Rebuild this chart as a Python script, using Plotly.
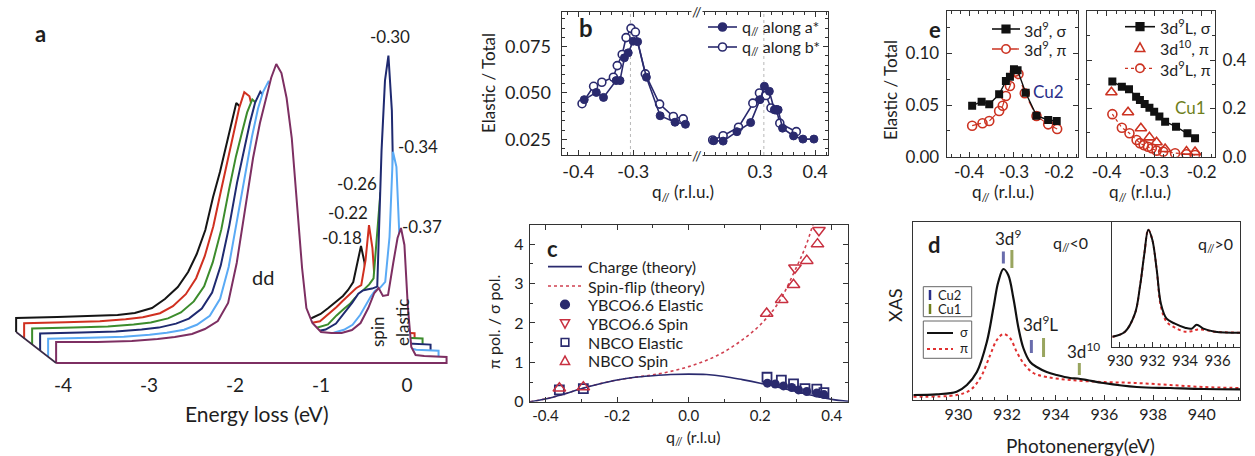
import plotly.graph_objects as go

W, H = 1255, 456
FONT = "Lato"
INK = "#1e1e1e"
AXC = "#333333"
NAVY = "#2a2a6e"
RED = "#cc3322"
OLIVE = "#6f7f1c"

def fx(x):
    return x / W

def fy(y):
    return 1 - y / H

# ======================= DATA =======================
# ---- panel a : RIXS spectra (energy loss, eV ; intensity a.u.) ----
a_energy = [-4.08, -3.6, -3.2, -2.9, -2.7, -2.5, -2.35, -2.2, -2.08, -1.98,
            -1.88, -1.79, -1.71, -1.64, -1.58, -1.52, -1.46, -1.40, -1.34, -1.28,
            -1.22, -1.17, -1.10, -1.00, -0.88, -0.76, -0.64, -0.54, -0.45, -0.38,
            -0.33, -0.28, -0.22, -0.16, -0.11, -0.07, -0.03, 0.01, 0.05, 0.10,
            0.20, 0.46]
a_q_labels = ["-0.18", "-0.22", "-0.26", "-0.30", "-0.34", "-0.37"]
a_int_q018 = [14, 15, 16, 17, 19, 24, 33, 45, 60, 78,
              102, 135, 160, 185, 205, 229, 224, 205, 175, 130,
              80, 45, 25, 14, 12, 12, 14, 18, 24, 29,
              32, 36, 42, 50, 70, 86, 70, 35, 12, 6,
              5, 5]
a_int_q022 = [15, 16, 17, 19, 21, 25, 32, 44, 60, 82,
              112, 148, 180, 208, 230, 246, 242, 220, 185, 140,
              88, 50, 28, 18, 15, 15, 17, 24, 31, 37,
              41, 45, 50, 53, 78, 113, 90, 40, 12, 7,
              6, 5]
a_int_q026 = [16, 17, 18, 20, 22, 26, 32, 43, 58, 82,
              115, 155, 188, 212, 232, 245, 240, 218, 185, 140,
              88, 50, 30, 20, 17, 17, 20, 29, 36, 41,
              46, 50, 55, 60, 66, 110, 152, 70, 15, 8,
              7, 6]
a_int_q030 = [17, 18, 19, 21, 23, 27, 32, 42, 58, 85,
              125, 168, 200, 228, 248, 259, 252, 230, 195, 145,
              90, 52, 32, 22, 19, 21, 27, 38, 48, 57,
              60, 61, 62, 64, 200, 270, 295, 240, 60, 10,
              7, 6]
a_int_q034 = [18, 19, 20, 22, 24, 27, 32, 41, 58, 90,
              138, 185, 220, 248, 265, 275, 268, 245, 208, 150,
              92, 52, 33, 25, 22, 24, 27, 32, 42, 53,
              60, 66, 69, 75, 120, 205, 190, 110, 25, 9,
              7, 6]
a_int_q037 = [21, 21, 22, 24, 26, 29, 34, 42, 60, 100,
              155, 205, 240, 266, 285, 299, 290, 265, 225, 160,
              95, 55, 40, 31, 30, 30, 33, 40, 55, 70,
              75, 67, 68, 100, 125, 135, 118, 56, 16, 8,
              7, 6]
a_ticks = [-4, -3, -2, -1, 0]

# ---- panel b : elastic / total vs q ----
b_q_a_neg = [-0.389, -0.367, -0.354, -0.331, -0.324, -0.316, -0.309, -0.300, -0.292, -0.276, -0.251, -0.224, -0.205]
b_r_a_neg = [0.0464, 0.0503, 0.0476, 0.0567, 0.0567, 0.0690, 0.0717, 0.0780, 0.0777, 0.0585, 0.0377, 0.0342, 0.0331]
b_q_b_neg = [-0.393, -0.372, -0.357, -0.336, -0.329, -0.320, -0.313, -0.304, -0.296, -0.278, -0.252, -0.227, -0.209]
b_r_b_neg = [0.0442, 0.0536, 0.0558, 0.0585, 0.0648, 0.0708, 0.0799, 0.0849, 0.0829, 0.0603, 0.0440, 0.0373, 0.0360]
b_q_a_pos = [0.216, 0.233, 0.258, 0.283, 0.300, 0.308, 0.317, 0.326, 0.333, 0.341, 0.361, 0.378, 0.398]
b_r_a_pos = [0.0242, 0.0240, 0.0291, 0.0340, 0.0464, 0.0536, 0.0509, 0.0409, 0.0409, 0.0310, 0.0268, 0.0251, 0.0251]
b_q_b_pos = [0.214, 0.233, 0.261, 0.287, 0.299, 0.311, 0.320, 0.330, 0.336, 0.366]
b_r_b_pos = [0.0246, 0.0269, 0.0315, 0.0445, 0.0500, 0.0486, 0.0419, 0.0409, 0.0337, 0.0291]
b_peak_q = [-0.305, 0.307]
b_xticks_neg = [-0.4, -0.3]
b_xticks_pos = [0.3, 0.4]
b_yticks = [0.025, 0.050, 0.075]

# ---- panel c : pi / sigma ratio ----
c_q_theory = [-0.443, -0.40, -0.35, -0.30, -0.25, -0.20, -0.15, -0.10, -0.05, 0.00,
              0.05, 0.10, 0.15, 0.20, 0.25, 0.30, 0.35, 0.40, 0.446]
c_charge = [0.00, 0.07, 0.19, 0.33, 0.45, 0.55, 0.62, 0.66, 0.69, 0.70,
            0.69, 0.64, 0.56, 0.47, 0.37, 0.26, 0.15, 0.06, 0.01]
c_q_spinflip = [-0.443, -0.40, -0.35, -0.30, -0.25, -0.20, -0.15, -0.10, -0.05, 0.00,
                0.05, 0.10, 0.15, 0.20, 0.25, 0.30, 0.33, 0.36]
c_spinflip = [0.00, 0.07, 0.19, 0.33, 0.45, 0.55, 0.62, 0.68, 0.77, 0.89,
              1.05, 1.27, 1.57, 1.95, 2.50, 3.39, 4.02, 4.90]
c_ybco_el_q = [0.220, 0.242, 0.265, 0.288, 0.307, 0.330, 0.358, 0.378]
c_ybco_el = [0.47, 0.45, 0.40, 0.36, 0.30, 0.26, 0.22, 0.18]
c_ybco_sp_q = [0.297, 0.364]
c_ybco_sp = [3.40, 4.35]
c_nbco_el_q = [-0.361, -0.294, 0.219, 0.259, 0.293, 0.325, 0.358, 0.378]
c_nbco_el = [0.30, 0.33, 0.62, 0.55, 0.45, 0.33, 0.32, 0.23]
c_nbco_sp_q = [-0.361, -0.294, 0.218, 0.260, 0.293, 0.330, 0.360]
c_nbco_sp = [0.34, 0.37, 2.24, 2.59, 2.97, 3.58, 4.00]
c_xticks = [-0.4, -0.2, 0.0, 0.2, 0.4]
c_yticks = [0, 1, 2, 3, 4]

# ---- panel e : elastic / total, Cu2 and Cu1 resonances ----
e_q_cu2_sig = [-0.393, -0.372, -0.355, -0.333, -0.318, -0.309, -0.300, -0.292, -0.274, -0.250, -0.224, -0.205]
e_cu2_sig = [0.0493, 0.0532, 0.0507, 0.0604, 0.0732, 0.0774, 0.0845, 0.0836, 0.0619, 0.0397, 0.0355, 0.0345]
e_q_cu2_pi = [-0.393, -0.370, -0.355, -0.333, -0.325, -0.318, -0.309, -0.298, -0.290, -0.276, -0.250, -0.224, -0.204]
e_cu2_pi = [0.0300, 0.0323, 0.0345, 0.0442, 0.0493, 0.0587, 0.0684, 0.0822, 0.0800, 0.0613, 0.0394, 0.0313, 0.0268]
e_q_cu1_sig = [-0.388, -0.368, -0.353, -0.338, -0.330, -0.320, -0.310, -0.300, -0.289, -0.277, -0.254, -0.230, -0.214]
e_cu1_sig = [0.311, 0.290, 0.279, 0.248, 0.235, 0.218, 0.203, 0.186, 0.166, 0.145, 0.124, 0.097, 0.076]
e_q_cu1_d10 = [-0.390, -0.355, -0.328, -0.310, -0.295, -0.277, -0.232, -0.214]
e_cu1_d10 = [0.267, 0.184, 0.118, 0.080, 0.060, 0.032, 0.021, 0.019]
e_q_cu1_pi = [-0.388, -0.368, -0.352, -0.337, -0.330, -0.322, -0.313, -0.305, -0.295, -0.281, -0.256, -0.232, -0.214]
e_cu1_pi = [0.176, 0.120, 0.097, 0.069, 0.056, 0.048, 0.041, 0.035, 0.025, 0.021, 0.014, 0.010, 0.007]
e_xticks = [-0.4, -0.3, -0.2]
e_yticks_l = [0.00, 0.05, 0.10]
e_yticks_r = [0.0, 0.2, 0.4]

# ---- panel d : XAS ----
d_E_sig = [928.15, 929.11, 929.93, 930.35, 930.76, 931.17, 931.44, 931.64, 931.85, 932.05,
           932.26, 932.47, 932.67, 932.95, 933.22, 933.63, 934.04, 934.59, 934.9, 935.28,
           935.96, 937.33, 938.70, 940.07, 941.58]
d_sig = [5, 5.7, 8.3, 15, 28, 58, 92, 118, 131, 125,
         102, 72, 52, 38, 33, 28, 25, 22, 21.5, 20,
         17, 13, 12, 11, 10.7]
d_E_pi = [928.15, 929.93, 930.49, 930.90, 931.31, 931.58, 931.85, 932.12, 932.40, 932.67,
          933.08, 933.63, 934.59, 935.96, 937.33, 938.70, 940.07, 941.58]
d_pi = [3.3, 5, 10, 22, 45, 60, 66, 62, 48, 37,
        27, 23, 20, 18, 17, 15, 13, 12]
d_cu2_E = [931.85, 933.0]
d_cu2_level = [142.5, 53.5]
d_cu1_E = [932.2, 933.5, 934.97]
d_cu1_level = [141, 52.5, 31]
d_xticks = [930, 932, 934, 936, 938, 940]
ins_E = [929.53, 930.31, 930.92, 931.23, 931.50, 931.74, 931.99, 932.26, 932.52, 932.87,
         933.38, 934.00, 934.41, 934.72, 935.13, 935.85, 937.38]
ins_sig = [10, 15, 33, 60, 93, 117, 107, 77, 43, 28,
           23, 19, 18, 22, 18, 15, 14]
ins_pi = [10, 15, 33, 60, 93, 117, 107, 77, 40, 25,
          19, 15, 15.5, 17, 17, 15, 14]
ins_xticks = [930, 932, 934, 936]

# ======================= FIGURE =======================
fig = go.Figure()

def add(tr):
    tr.hoverinfo = "skip"
    tr.showlegend = False
    fig.add_trace(tr)

# ---- panel a : waterfall ----
a_curves = [a_int_q018, a_int_q022, a_int_q026, a_int_q030, a_int_q034, a_int_q037]
a_colors = ["#151515", "#d03020", "#3c8c2c", "#1f2a70", "#5aaaf5", "#7d2f62"]
A_DX = 0.093   # depth shift in eV
A_DY = 6.2     # depth shift in a.u.
n_a = len(a_curves)
for k, (vals, col) in enumerate(zip(a_curves, a_colors)):
    depth = n_a - 1 - k
    sx, sy = -depth * A_DX, depth * A_DY
    xs = [a_energy[0] + sx] + [e + sx for e in a_energy] + [a_energy[-1] + sx]
    ys = [sy] + [v + sy for v in vals] + [sy]
    add(go.Scatter(x=xs + [xs[0]], y=ys + [ys[0]], mode="lines", fill="toself",
                   fillcolor="white", line=dict(width=0), xaxis="x", yaxis="y"))
    lx, ly = (xs + [xs[0]], ys + [ys[0]]) if depth == 0 else (xs, ys)
    add(go.Scatter(x=lx, y=ly, mode="lines", line=dict(color=col, width=2),
                   xaxis="x", yaxis="y"))
add(go.Scatter(x=[a_energy[0] - d * A_DX for d in range(n_a)],
               y=[d * A_DY for d in range(n_a)], mode="lines",
               line=dict(color="#3a2a45", width=1.6), xaxis="x", yaxis="y"))

# ---- panel b ----
mk_fill = dict(symbol="circle", size=8, color=NAVY, line=dict(color=NAVY, width=1))
mk_open = dict(symbol="circle", size=8, color="white", line=dict(color=NAVY, width=1.6))
for xs, ys, mk, xa, ya in [(b_q_b_neg, b_r_b_neg, mk_open, "x2", "y2"),
                           (b_q_a_neg, b_r_a_neg, mk_fill, "x2", "y2"),
                           (b_q_b_pos, b_r_b_pos, mk_open, "x3", "y3"),
                           (b_q_a_pos, b_r_a_pos, mk_fill, "x3", "y3")]:
    add(go.Scatter(x=xs, y=ys, mode="lines+markers", marker=mk,
                   line=dict(color=NAVY, width=1.6), xaxis=xa, yaxis=ya))

# ---- panel c ----
add(go.Scatter(x=c_q_spinflip, y=c_spinflip, mode="lines", line=dict(color="#d04050", width=1.6, dash="dot", shape="spline"),
               xaxis="x4", yaxis="y4"))
add(go.Scatter(x=c_q_theory, y=c_charge, mode="lines", line=dict(color=NAVY, width=1.6, shape="spline"),
               xaxis="x4", yaxis="y4"))
add(go.Scatter(x=c_ybco_el_q, y=c_ybco_el, mode="markers",
               marker=dict(symbol="circle", size=9, color=NAVY), xaxis="x4", yaxis="y4"))
add(go.Scatter(x=c_nbco_el_q, y=c_nbco_el, mode="markers",
               marker=dict(symbol="square-open", size=9, color=NAVY, line=dict(width=1.8)), xaxis="x4", yaxis="y4"))
add(go.Scatter(x=c_nbco_sp_q, y=c_nbco_sp, mode="markers",
               marker=dict(symbol="triangle-up-open", size=11, color="#c83040", line=dict(width=1.5)), xaxis="x4", yaxis="y4"))
add(go.Scatter(x=c_ybco_sp_q, y=c_ybco_sp, mode="markers",
               marker=dict(symbol="triangle-down-open", size=11, color="#c83040", line=dict(width=1.5)), xaxis="x4", yaxis="y4"))

# ---- panel e ----
sq_mk = dict(symbol="square", size=8, color="#111111")
ci_mk = dict(symbol="circle-open", size=9, color=RED, line=dict(width=1.6))
add(go.Scatter(x=e_q_cu2_pi, y=e_cu2_pi, mode="lines+markers", marker=ci_mk,
               line=dict(color=RED, width=1.2, dash="dash"), xaxis="x5", yaxis="y5"))
add(go.Scatter(x=e_q_cu2_sig, y=e_cu2_sig, mode="lines+markers", marker=sq_mk,
               line=dict(color="#111111", width=1.4), xaxis="x5", yaxis="y5"))
add(go.Scatter(x=e_q_cu1_pi, y=e_cu1_pi, mode="lines+markers", marker=ci_mk,
               line=dict(color=RED, width=1.2, dash="dot"), xaxis="x6", yaxis="y6"))
add(go.Scatter(x=e_q_cu1_d10, y=e_cu1_d10, mode="markers",
               marker=dict(symbol="triangle-up-open", size=10, color=RED, line=dict(width=1.6)),
               xaxis="x6", yaxis="y6"))
add(go.Scatter(x=e_q_cu1_sig, y=e_cu1_sig, mode="lines+markers", marker=sq_mk,
               line=dict(color="#111111", width=1.4), xaxis="x6", yaxis="y6"))

# ---- panel d ----
add(go.Scatter(x=d_E_pi, y=d_pi, mode="lines", line=dict(color="#e03030", width=2, dash="dot", shape="spline"),
               xaxis="x7", yaxis="y7"))
add(go.Scatter(x=d_E_sig, y=d_sig, mode="lines", line=dict(color="#111111", width=2.2, shape="spline"),
               xaxis="x7", yaxis="y7"))
add(go.Scatter(x=d_cu2_E, y=d_cu2_level, mode="markers",
               marker=dict(symbol="line-ns", size=[8.6, 9.3], line=dict(color="#2a2f8a", width=3)),
               xaxis="x7", yaxis="y7"))
add(go.Scatter(x=d_cu1_E, y=d_cu1_level, mode="markers",
               marker=dict(symbol="line-ns", size=[12.9, 13.6, 8.6], line=dict(color=OLIVE, width=3)),
               xaxis="x7", yaxis="y7"))
add(go.Scatter(x=ins_E, y=ins_pi, mode="lines", line=dict(color="#e03030", width=2, dash="dot", shape="spline"),
               xaxis="x8", yaxis="y8"))
add(go.Scatter(x=ins_E, y=ins_sig, mode="lines", line=dict(color="#111111", width=2, shape="spline"),
               xaxis="x8", yaxis="y8"))

# ======================= AXES =======================
def fmt(vals, nd):
    return [f"{v:.{nd}f}" for v in vals]

def ax(x0, x1, rng, **kw):
    base = dict(domain=[x0, x1], range=rng, showgrid=False, zeroline=False,
                showline=True, linecolor=AXC, linewidth=1.3, ticks="inside",
                ticklen=5, tickwidth=1.2, tickcolor=AXC, tickangle=0,
                tickfont=dict(family=FONT, size=16, color=INK))
    base.update(kw)
    return base

lay = {}
# a
lay["xaxis"] = ax(0, fx(460), [-407 / 86, 53 / 86], anchor="y", showline=False, ticks="",
                  tickvals=a_ticks, ticktext=fmt(a_ticks, 0), tickfont=dict(family=FONT, size=19, color=INK))
lay["yaxis"] = ax(fy(372), fy(20), [-9, 343], anchor="x", visible=False)
# b
b_minor_x = dict(ticks="inside", ticklen=3, dtick=0.02, tickcolor=AXC, tickwidth=1)
b_minor_y = dict(ticks="inside", ticklen=3, dtick=0.005, tickcolor=AXC, tickwidth=1)
lay["xaxis2"] = ax(fx(561.7), fx(697), [-0.43, -0.184], anchor="y2", mirror="allticks",
                   tickvals=b_xticks_neg, ticktext=fmt(b_xticks_neg, 1), minor=b_minor_x,
                   tickfont=dict(family=FONT, size=18, color=INK))
lay["xaxis3"] = ax(fx(697), fx(828), [0.1855, 0.4236], anchor="y3", mirror="allticks",
                   tickvals=b_xticks_pos, ticktext=fmt(b_xticks_pos, 1), minor=b_minor_x,
                   tickfont=dict(family=FONT, size=18, color=INK))
lay["yaxis2"] = ax(fy(155), fy(11.7), [0.0165, 0.0939], anchor="x2",
                   tickvals=b_yticks, ticktext=fmt(b_yticks, 3), minor=b_minor_y,
                   tickfont=dict(family=FONT, size=18, color=INK), ticklabelstandoff=6)
lay["yaxis3"] = ax(fy(155), fy(11.7), [0.0165, 0.0939], anchor="x3", side="right",
                   tickvals=b_yticks, showticklabels=False, minor=b_minor_y)
# c
lay["xaxis4"] = ax(fx(530), fx(848.3), [-0.443, 0.446], anchor="y4", mirror="allticks",
                   tickvals=c_xticks, ticktext=fmt(c_xticks, 1),
                   minor=dict(ticks="inside", ticklen=3, dtick=0.1, tickcolor=AXC),
                   tickfont=dict(family=FONT, size=15, color=INK))
lay["yaxis4"] = ax(fy(401.7), fy(225), [0, 4.485], anchor="x4", mirror="allticks",
                   tickvals=c_yticks, ticktext=fmt(c_yticks, 0),
                   minor=dict(ticks="inside", ticklen=3, dtick=0.5, tickcolor=AXC),
                   tickfont=dict(family=FONT, size=16, color=INK), ticklabelstandoff=2)
# e
e_minor_x = dict(ticks="inside", ticklen=3, dtick=0.02, tickcolor=AXC)
lay["xaxis5"] = ax(fx(946.7), fx(1078.3), [-0.4496, -0.157], anchor="y5", mirror="allticks",
                   tickvals=e_xticks, ticktext=fmt(e_xticks, 1), minor=e_minor_x,
                   tickfont=dict(family=FONT, size=17, color=INK))
lay["yaxis5"] = ax(fy(156.7), fy(11), [0, 0.1409], anchor="x5", mirror="allticks",
                   tickvals=e_yticks_l, ticktext=fmt(e_yticks_l, 2),
                   minor=dict(ticks="inside", ticklen=3, dtick=0.025, tickcolor=AXC),
                   tickfont=dict(family=FONT, size=17, color=INK), ticklabelstandoff=3)
lay["xaxis6"] = ax(fx(1086.7), fx(1215), [-0.442, -0.172], anchor="y6", mirror="allticks",
                   tickvals=e_xticks, ticktext=fmt(e_xticks, 1), minor=e_minor_x,
                   tickfont=dict(family=FONT, size=17, color=INK))
lay["yaxis6"] = ax(fy(156.7), fy(11), [0, 0.603], anchor="x6", side="right", mirror="allticks",
                   tickvals=e_yticks_r, ticktext=fmt(e_yticks_r, 1),
                   minor=dict(ticks="inside", ticklen=3, dtick=0.1, tickcolor=AXC),
                   tickfont=dict(family=FONT, size=17, color=INK), ticklabelstandoff=3)
# d
lay["xaxis7"] = ax(fx(913.3), fx(1240), [928.15, 941.57], anchor="y7", mirror=True,
                   tickvals=d_xticks, ticktext=fmt(d_xticks, 0),
                   minor=dict(ticks="inside", ticklen=3, dtick=0.5, tickcolor=AXC),
                   tickfont=dict(family=FONT, size=16, color=INK))
lay["yaxis7"] = ax(fy(400), fy(221.7), [0, 178.3], anchor="x7", mirror=True, ticks="",
                   showticklabels=False)
lay["xaxis8"] = ax(fx(1112.3), fx(1240), [929.53, 937.38], anchor="y8", mirror=True,
                   tickvals=ins_xticks, ticktext=fmt(ins_xticks, 0),
                   minor=dict(ticks="inside", ticklen=3, dtick=0.5, tickcolor=AXC),
                   tickfont=dict(family=FONT, size=15, color=INK))
lay["yaxis8"] = ax(fy(346.7), fy(221.7), [0, 125], anchor="x8", mirror=True, ticks="",
                   showticklabels=False)

# ======================= TEXT =======================
ann = []

def txt(x, y, s, size=16, color=INK, xa="center", ya="middle", angle=0, bg=None):
    d = dict(x=fx(x), y=fy(y), xref="paper", yref="paper", text=s, showarrow=False,
             font=dict(family=FONT, size=size, color=color), xanchor=xa, yanchor=ya,
             textangle=angle)
    if bg:
        d["bgcolor"] = bg
        d["borderpad"] = 0
    ann.append(d)

# panel letters
txt(40, 33, "<b>a</b>", 22)
txt(586, 27, "<b>b</b>", 24)
txt(552, 248, "<b>c</b>", 22)
txt(935, 30, "<b>e</b>", 22)
txt(934, 245, "<b>d</b>", 22)

# panel a labels
a_label_xy = [(342, 237), (348, 213), (357, 183), (390, 37), (418, 146), (422, 227)]
for (lx, ly), lab in zip(a_label_xy, a_q_labels):
    txt(lx, ly, lab, 17)
txt(263, 277, "dd", 20)
txt(377, 332, "spin", 17, angle=-90)
txt(402, 323, "elastic", 17, angle=-90)
txt(257, 413, "Energy loss (eV)", 21)

# panel b
txt(488, 83, "Elastic / Total", 17, angle=-90)
txt(683, 193, "q<sub>//</sub> (r.l.u.)", 17)
txt(697, 11.7, "//", 14, bg="white")
txt(697, 155, "//", 14, bg="white")

# panel c
txt(493, 322, "π pol. / σ pol.", 16, angle=-90)
txt(693, 437, "q<sub>//</sub> (r.l.u)", 16)

# panel e
txt(890, 90, "Elastic / Total", 17, angle=-90)
txt(1003, 193, "q<sub>//</sub> (r.l.u.)", 17)
txt(1140, 193, "q<sub>//</sub> (r.l.u.)", 17)
txt(1048, 92, "Cu2", 17, color="#2a2f8a")
txt(1190, 107, "Cu1", 17, color=OLIVE)

# panel d
txt(895, 305, "XAS", 18, angle=-90)
txt(1080, 445, "Photonenergy(eV)", 19)
txt(1008, 238, "3d<sup>9</sup>", 17)
txt(1040, 323, "3d<sup>9</sup>L", 17)
txt(1083, 350, "3d<sup>10</sup>", 17)
txt(1070, 243, "q<sub>//</sub>&lt;0", 16)
txt(1215, 245, "q<sub>//</sub>&gt;0", 16)

# ======================= LEGENDS (keys as shapes) =======================
shapes = []

def seg(x0, x1, y0, y1, color, width=1.6, dash="solid"):
    shapes.append(dict(type="line", xref="paper", yref="paper", x0=fx(x0), x1=fx(x1),
                       y0=fy(y0), y1=fy(y1), line=dict(color=color, width=width, dash=dash)))

def circ(cx, cy, r, color, filled):
    shapes.append(dict(type="circle", xref="paper", yref="paper", x0=fx(cx - r), x1=fx(cx + r),
                       y0=fy(cy + r), y1=fy(cy - r), fillcolor=color if filled else "white",
                       line=dict(color=color, width=1.6)))

def square(cx, cy, s, color, filled):
    shapes.append(dict(type="rect", xref="paper", yref="paper", x0=fx(cx - s), x1=fx(cx + s),
                       y0=fy(cy + s), y1=fy(cy - s), fillcolor=color if filled else "white",
                       line=dict(color=color, width=1.6)))

def tri(cx, cy, s, color, up=True):
    if up:
        pts = [(cx - s, cy + s * 0.8), (cx + s, cy + s * 0.8), (cx, cy - s)]
    else:
        pts = [(cx - s, cy - s * 0.8), (cx + s, cy - s * 0.8), (cx, cy + s)]
    path = "M " + " L ".join(f"{fx(px):.5f},{fy(py):.5f}" for px, py in pts) + " Z"
    shapes.append(dict(type="path", xref="paper", yref="paper", path=path,
                       fillcolor="white", line=dict(color=color, width=1.5)))

def box(x0, y0, x1, y1):
    shapes.append(dict(type="rect", xref="paper", yref="paper", x0=fx(x0), x1=fx(x1),
                       y0=fy(y1), y1=fy(y0), line=dict(color="#666666", width=1)))

# b legend
for y, lab, filled in [(27, "q<sub>//</sub> along a*", True), (47, "q<sub>//</sub> along b*", False)]:
    seg(708, 737, y, y, NAVY)
    circ(722.5, y, 4, NAVY, filled)
    txt(740, y, lab, 16, xa="left")

# c legend
c_rows = [266.7, 286, 304.5, 323.5, 342.3, 360.7]
c_labels = ["Charge (theory)", "Spin-flip (theory)", "YBCO6.6 Elastic", "YBCO6.6 Spin", "NBCO Elastic", "NBCO Spin"]
seg(548, 582, c_rows[0], c_rows[0], NAVY, 1.8)
seg(548, 582, c_rows[1], c_rows[1], "#d04050", 1.6, "dot")
circ(565, c_rows[2], 4.3, NAVY, True)
tri(565, c_rows[3], 4.6, "#c83040", up=False)
square(565, c_rows[4], 3.8, NAVY, False)
tri(565, c_rows[5], 4.6, "#c83040", up=True)
for y, lab in zip(c_rows, c_labels):
    txt(586, y, lab, 16, xa="left")

# e legends
seg(992, 1020, 29, 29, "#111111")
square(1006, 29, 3.8, "#111111", True)
txt(1022, 29, "3d<sup>9</sup>, σ", 16, xa="left")
seg(992, 1020, 49, 49, RED, 1.3, "dash")
circ(1006, 49, 4.2, RED, False)
txt(1022, 49, "3d<sup>9</sup>, π", 16, xa="left")

seg(1125, 1155, 26.7, 26.7, "#111111")
square(1140, 26.7, 3.8, "#111111", True)
txt(1158, 26.7, "3d<sup>9</sup>L, σ", 16, xa="left")
tri(1140, 47.7, 4.8, RED, up=True)
txt(1158, 47.7, "3d<sup>10</sup>, π", 16, xa="left")
seg(1125, 1155, 68.3, 68.3, RED, 1.3, "dot")
circ(1140, 68.3, 4.2, RED, False)
txt(1158, 68.3, "3d<sup>9</sup>L, π", 16, xa="left")

# d legends
box(923.3, 286.7, 971.7, 316.7)
seg(930, 930, 290, 300, "#2a2f8a", 2.5)
txt(936, 295, "Cu2", 13, xa="left")
seg(930, 930, 304, 314, OLIVE, 2.5)
txt(936, 309, "Cu1", 13, xa="left")
box(923.3, 321, 971.7, 358.3)
seg(927, 953, 333, 333, "#111111", 2)
txt(958, 332, "σ", 13, xa="left")
seg(927, 953, 349, 349, "#e03030", 2, "dot")
txt(958, 348, "π", 13, xa="left")

# dotted guide lines in panel b
shapes.append(dict(type="line", xref="x2", yref="y2 domain", x0=b_peak_q[0], x1=b_peak_q[0], y0=0, y1=1,
                   line=dict(color="#b8b8b8", width=1, dash="dot"), layer="below"))
shapes.append(dict(type="line", xref="x3", yref="y3 domain", x0=b_peak_q[1], x1=b_peak_q[1], y0=0, y1=1,
                   line=dict(color="#b8b8b8", width=1, dash="dot"), layer="below"))

fig.update_layout(width=W, height=H, margin=dict(l=0, r=0, t=0, b=0),
                  paper_bgcolor="white", plot_bgcolor="white", template="none",
                  showlegend=False, annotations=ann, shapes=shapes,
                  font=dict(family=FONT, color=INK), **lay)

fig.write_html("out.html", config={"displayModeBar": False},
               post_script="document.body.style.margin='0px';document.body.style.padding='0px';")
